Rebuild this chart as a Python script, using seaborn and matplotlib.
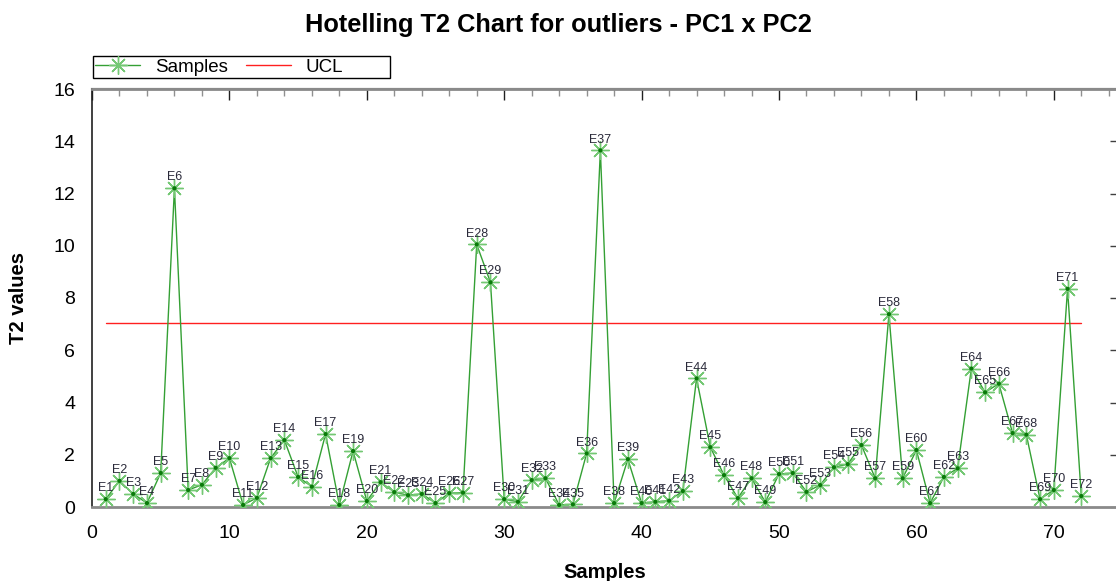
import matplotlib
matplotlib.use("Agg")
import matplotlib.pyplot as plt
import seaborn as sns
import pandas as pd
from matplotlib.lines import Line2D
from matplotlib.patches import Rectangle

sample_idx = list(range(1, 73))
sample_names = [f"E{i}" for i in sample_idx]
t2_values = [0.30, 1.00, 0.50, 0.15, 1.30, 12.20, 0.65, 0.85, 1.50, 1.87,
             0.08, 0.35, 1.87, 2.56, 1.15, 0.78, 2.79, 0.08, 2.14, 0.23,
             0.95, 0.57, 0.45, 0.50, 0.15, 0.53, 0.55, 10.05, 8.60, 0.30,
             0.20, 1.03, 1.10, 0.08, 0.10, 2.05, 13.65, 0.15, 1.83, 0.15,
             0.20, 0.24, 0.61, 4.92, 2.29, 1.22, 0.34, 1.10, 0.19, 1.26,
             1.30, 0.58, 0.84, 1.52, 1.64, 2.37, 1.10, 7.38, 1.10, 2.18,
             0.15, 1.15, 1.48, 5.30, 4.39, 4.72, 2.83, 2.77, 0.30, 0.65,
             8.35, 0.42]
ucl_value = 7.06
ucl_x = [1, 72]

title = "Hotelling T2 Chart for outliers - PC1 x PC2"
x_label = "Samples"
y_label = "T2 values"

sns.set_style("white")
plt.rcParams['font.family'] = ['Liberation Sans', 'DejaVu Sans']
plt.rcParams['text.color'] = 'black'
plt.rcParams['axes.labelcolor'] = 'black'
plt.rcParams['xtick.labelcolor'] = 'black'
plt.rcParams['ytick.labelcolor'] = 'black'

df = pd.DataFrame({"idx": sample_idx, "t2": t2_values, "name": sample_names})
ucl_df = pd.DataFrame({"x": ucl_x, "y": [ucl_value] * len(ucl_x)})

W, H = 1116, 581
fig = plt.figure(figsize=(W / 100, H / 100), dpi=100)
ax = fig.add_axes([92 / W, 74 / H, 1025 / W, 418 / H])

line_col = "#34a034"
mark_col = "#74c874"
dot_col = "#0a7a0a"

sns.lineplot(data=df, x="idx", y="t2", ax=ax, color=line_col, linewidth=1.0,
             marker=(8, 2, 0), markersize=13, markeredgecolor=mark_col,
             markeredgewidth=1.0, legend=False, zorder=3)
sns.scatterplot(data=df, x="idx", y="t2", ax=ax, color=dot_col, s=9,
                edgecolor="none", legend=False, zorder=4)
sns.lineplot(data=ucl_df, x="x", y="y", ax=ax, color="#ff2020", linewidth=1.0,
             legend=False, zorder=2)

for xi, yi, nm in zip(sample_idx, t2_values, sample_names):
    ax.annotate(nm, (xi, yi), xytext=(0, 3.5), textcoords="offset points",
                ha="center", va="bottom", fontsize=9, color="#2a2a3a",
                zorder=5)

ax.set_xlim(0, 74.6)
ax.set_ylim(0, 16)
ax.set_xticks(range(0, 71, 10))
ax.set_xticks(range(0, 75, 2), minor=True)
ax.set_yticks(range(0, 17, 2))
ax.set_yticks([v * 0.5 for v in range(0, 33)], minor=True)
ax.tick_params(axis="both", which="major", direction="inout", length=14,
               width=1.0, color="#202020", labelsize=14, pad=5)
ax.tick_params(axis="both", which="minor", direction="inout", length=8,
               width=0.9, color="#303030")
ax.tick_params(axis="x", which="major", pad=6)
ax.tick_params(axis="x", which="both", top=False)
ax.tick_params(axis="y", which="both", right=False)

# top axis ticks pointing inwards
sec_top = ax.secondary_xaxis("top")
sec_top.set_xticks(range(0, 71, 10))
sec_top.set_xticks(range(0, 75, 2), minor=True)
sec_top.tick_params(which="major", direction="in", length=8, width=1.0,
                    color="#202020", labeltop=False)
sec_top.tick_params(which="minor", direction="in", length=5, width=1.0,
                    color="#909090")
sec_top.spines["top"].set_color("#8a8a8a")
sec_top.spines["top"].set_linewidth(1.6)

sec_right = ax.secondary_yaxis("right")
sec_right.set_yticks(range(0, 17, 2))
sec_right.tick_params(which="major", direction="in", length=5, width=1.0,
                      color="#404040", labelright=False)
sec_right.tick_params(which="minor", length=0)

for side in ["bottom", "top"]:
    ax.spines[side].set_color("#8a8a8a")
    ax.spines[side].set_linewidth(2.0)
ax.spines["left"].set_color("#202020")
ax.spines["left"].set_linewidth(1.2)
ax.spines["right"].set_color("#202020")

ax.set_xlabel(x_label, fontsize=14.5, fontweight="bold", labelpad=15)
ax.set_ylabel(y_label, fontsize=14.5, fontweight="bold", labelpad=18)
fig.suptitle(title, fontsize=18.3, fontweight="bold", y=0.978)

handles = [
    Line2D([0], [0], color=line_col, linewidth=1.0, marker=(8, 2, 0),
           markersize=13, markeredgecolor=mark_col, markeredgewidth=1.0),
    Line2D([0], [0], color="#ff2020", linewidth=1.0),
]
fs = 13.5
px_em = fs * 100 / 72
leg = fig.legend(handles, ["Samples", "UCL"], loc="center left",
                 bbox_to_anchor=(95 / W, (H - 67) / H),
                 ncol=2, fontsize=fs, frameon=False,
                 borderpad=0, handlelength=45 / px_em,
                 columnspacing=18 / px_em, handletextpad=15 / px_em,
                 borderaxespad=0)
fig.patches.append(Rectangle((93 / W, (H - 78) / H), 297 / W, 22 / H,
                             transform=fig.transFigure, fill=False,
                             edgecolor="#000000", linewidth=1.0))

fig.savefig("out.png", dpi=100)
